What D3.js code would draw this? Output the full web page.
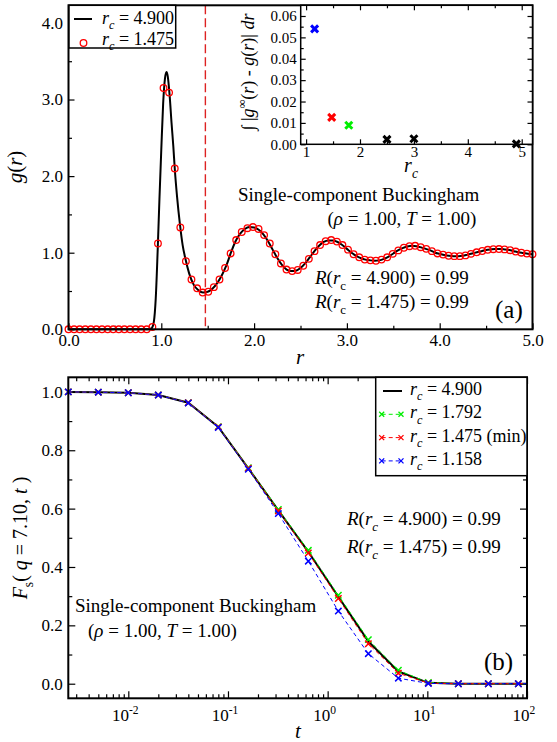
<!DOCTYPE html>
<html><head><meta charset="utf-8">
<script src="https://cdn.jsdelivr.net/npm/d3@7"></script>
<style>body{margin:0;background:#fff} text{font-family:"Liberation Serif","Times New Roman",serif;fill:#000}</style>
</head><body><svg id="c" width="557" height="742"></svg>
<script>
// ---------- DATA ----------
// Panel (a): g(r), r_c = 4.900 (solid line)
const gLineR = [0,0.5,0.85,0.88,0.90,0.92,0.94,0.96,0.98,1.00,1.02,1.04,1.056,1.07,1.09,1.11,1.13,1.145,1.17,1.20,1.23,1.26,1.30,1.35,1.40,1.45,1.50,1.55,1.60,1.65,1.70,1.75,1.80,1.85,1.90,1.95,2.00,2.05,2.10,2.15,2.20,2.25,2.30,2.35,2.40,2.45,2.50,2.55,2.60,2.65,2.70,2.75,2.80,2.85,2.90,2.95,3.00,3.05,3.10,3.15,3.20,3.25,3.30,3.35,3.40,3.45,3.50,3.55,3.60,3.65,3.70,3.75,3.80,3.85,3.90,3.95,4.00,4.05,4.10,4.15,4.20,4.25,4.30,4.35,4.40,4.45,4.50,4.55,4.60,4.65,4.70,4.75,4.80,4.85,4.90,4.95,5.00];
const gLineG = [0,0,0,0.005,0.02,0.10,0.40,1.00,1.70,2.35,2.95,3.28,3.36,3.30,3.05,2.70,2.38,2.10,1.73,1.38,1.10,0.92,0.73,0.58,0.51,0.48,0.49,0.53,0.60,0.70,0.83,1.00,1.15,1.25,1.31,1.335,1.33,1.30,1.24,1.15,1.04,0.93,0.84,0.78,0.76,0.765,0.80,0.86,0.94,1.02,1.09,1.14,1.16,1.16,1.14,1.10,1.05,1.00,0.96,0.93,0.91,0.90,0.895,0.90,0.92,0.95,0.99,1.03,1.06,1.08,1.09,1.085,1.07,1.05,1.03,1.00,0.985,0.97,0.96,0.955,0.955,0.96,0.975,0.99,1.005,1.02,1.035,1.043,1.048,1.048,1.043,1.035,1.02,1.005,0.995,0.985,0.98];
// Panel (a): g(r), r_c = 1.475 (circles)
const gCircR = [0.000,0.060,0.120,0.181,0.241,0.301,0.361,0.422,0.482,0.542,0.602,0.663,0.723,0.783,0.843,0.904,0.964,1.024,1.084,1.145,1.205,1.265,1.325,1.386,1.446,1.506,1.566,1.627,1.687,1.747,1.807,1.867,1.928,1.988,2.048,2.108,2.169,2.229,2.289,2.349,2.410,2.470,2.530,2.590,2.651,2.711,2.771,2.831,2.892,2.952,3.012,3.072,3.133,3.193,3.253,3.313,3.373,3.434,3.494,3.554,3.614,3.675,3.735,3.795,3.855,3.916,3.976,4.036,4.096,4.157,4.217,4.277,4.337,4.398,4.458,4.518,4.578,4.639,4.699,4.759,4.819,4.880,4.940,5.000];
const gCircG = [0,0,0,0,0,0,0,0,0,0,0,0,0,0,0,0.03,1.12,3.15,3.09,2.10,1.33,0.89,0.65,0.535,0.48,0.49,0.55,0.65,0.80,0.99,1.165,1.27,1.32,1.335,1.31,1.23,1.12,0.98,0.86,0.78,0.76,0.775,0.83,0.92,1.02,1.10,1.15,1.165,1.145,1.10,1.04,0.98,0.94,0.91,0.90,0.895,0.91,0.94,0.985,1.03,1.065,1.085,1.09,1.072,1.05,1.02,0.99,0.975,0.96,0.955,0.955,0.965,0.985,1.005,1.022,1.038,1.046,1.048,1.043,1.033,1.015,1.0,0.988,0.98];
const rcMin = 1.475;
// Inset
const insetRc  = [1.158, 1.475, 1.792, 2.5, 3.0, 4.9];
const insetErr = [0.054, 0.0126, 0.0089, 0.0023, 0.0026, 0.0002];
const insetGroup = ["b","r","g","k","k","k"];
// Panel (b): F_s(q, t)
const fsT    = [0.0025,0.005,0.01,0.02,0.04,0.08,0.16,0.32,0.64,1.28,2.56,5.12,10.24,20.48,40.96,81.92,163.84];
const fs4900 = [1.0,0.999,0.997,0.989,0.963,0.880,0.738,0.594,0.452,0.298,0.145,0.042,0.003,0.0,0.0,0.0,0.0];
const fs1792 = [1.0,0.999,0.997,0.989,0.963,0.881,0.740,0.597,0.457,0.303,0.151,0.046,0.004,0.0,0.0,0.0,0.0];
const fs1475 = [1.0,0.999,0.997,0.989,0.963,0.880,0.738,0.592,0.448,0.292,0.137,0.036,0.002,0.0,0.0,0.0,0.0];
const fs1158 = [1.0,0.999,0.997,0.989,0.962,0.878,0.735,0.583,0.420,0.249,0.103,0.019,0.001,0.0,0.0,0.0,0.0];
// Tick values
const aXMajor = [0,1,2,3,4,5], aXMinor = [0.5,1.5,2.5,3.5,4.5];
const aYMajor = [0,1,2,3,4],   aYMinor = [0.5,1.5,2.5,3.5];
const iXMajor = [1,2,3,4,5],   iXMinor = [1.5,2.5,3.5,4.5];
const iYMajor = [0,0.01,0.02,0.03,0.04,0.05,0.06], iYMinor = [0.005,0.015,0.025,0.035,0.045,0.055];
const bXMajor = [0.01,0.1,1,10,100];
const bXExp = ["-2","-1","0","1","2"];
const bYMajor = [0,0.2,0.4,0.6,0.8,1.0], bYMinor = [0.1,0.3,0.5,0.7,0.9];

// ---------- STYLE ----------
const col = {k:"#000000", r:"#ff0000", g:"#00ee00", b:"#0000ff", dash:"#dd2222"};
const svg = d3.select("#c");

function rich(parent, x, y, segs, size, anchor) {
  const t = parent.append("text").attr("x", x).attr("y", y).attr("font-size", size)
    .attr("text-anchor", anchor || "start");
  let shift = 0;
  segs.forEach(s => {
    const target = s.sub ? size * 0.3 : s.sup ? -size * 0.42 : 0;
    const ts = t.append("tspan").text(s.t).attr("dy", target - shift);
    shift = target;
    if (s.sub || s.sup) ts.attr("font-size", size * 0.68);
    if (s.i) ts.attr("font-style", "italic");
  });
  return t;
}
function axis(gen, tr, vals, size, pad, fmt, fs) {
  const g = svg.append("g").attr("transform", tr)
    .call(gen.tickValues(vals).tickSizeInner(size).tickSizeOuter(0).tickPadding(pad).tickFormat(fmt));
  g.select(".domain").remove();
  g.attr("font-family", null).attr("font-size", fs);
  g.selectAll("line").attr("stroke", "#000").attr("stroke-width", 1.2);
  g.selectAll("text").attr("fill", "#000");
  return g;
}
const none = () => "";

// ================= PANEL (a) =================
const xA = d3.scaleLinear().domain([0, 5]).range([68.5, 532.5]);
const yA = d3.scaleLinear().domain([0, 4.23]).range([329.3, 5.3]);

axis(d3.axisBottom(xA), `translate(0,${yA(0)})`, aXMajor, -6, 5, d3.format(".1f"), 17);
axis(d3.axisBottom(xA), `translate(0,${yA(0)})`, aXMinor, -3.5, 5, none, 17);
axis(d3.axisLeft(yA), `translate(${xA(0)},0)`, aYMajor, -6, 5.5, d3.format(".1f"), 17);
axis(d3.axisLeft(yA), `translate(${xA(0)},0)`, aYMinor, -3.5, 5.5, none, 17);

// vertical dashed at minimum
svg.append("line").attr("x1", xA(rcMin)).attr("x2", xA(rcMin)).attr("y1", yA.range()[1]).attr("y2", yA(0))
  .attr("stroke", col.dash).attr("stroke-width", 1.4).attr("stroke-dasharray", "9,4");

// black line
svg.append("path").datum(gLineR.map((r, i) => [r, gLineG[i]]))
  .attr("d", d3.line().x(d => xA(d[0])).y(d => yA(d[1])).curve(d3.curveMonotoneX))
  .attr("fill", "none").attr("stroke", "#000").attr("stroke-width", 2);
// circles
svg.append("g").selectAll("circle").data(gCircR.map((r, i) => [r, gCircG[i]])).join("circle")
  .attr("cx", d => xA(d[0])).attr("cy", d => yA(d[1])).attr("r", 3.3)
  .attr("fill", "none").attr("stroke", col.r).attr("stroke-width", 1.3);

// frame
svg.append("rect").attr("x", xA(0)).attr("y", yA.range()[1]).attr("width", xA(5) - xA(0)).attr("height", yA(0) - yA.range()[1])
  .attr("fill", "none").attr("stroke", "#000").attr("stroke-width", 2);

// legend (a)
svg.append("rect").attr("x", 69).attr("y", 5.3).attr("width", 106.7).attr("height", 42.7)
  .attr("fill", "#fff").attr("stroke", "#000").attr("stroke-width", 1.5);
svg.append("line").attr("x1", 74).attr("x2", 92).attr("y1", 19).attr("y2", 19).attr("stroke", "#000").attr("stroke-width", 2);
svg.append("circle").attr("cx", 83.5).attr("cy", 43).attr("r", 3.3).attr("fill", "none").attr("stroke", col.r).attr("stroke-width", 1.3);
rich(svg, 102, 23.5, [{t:"r",i:1},{t:"c",i:1,sub:1},{t:" = 4.900"}], 18);
rich(svg, 102, 45, [{t:"r",i:1},{t:"c",i:1,sub:1},{t:" = 1.475"}], 18);

// annotations (a)
rich(svg, 238, 200.5, [{t:"Single-component Buckingham"}], 19);
rich(svg, 327.5, 225, [{t:"("},{t:"ρ",i:1},{t:" = 1.00, "},{t:"T",i:1},{t:" = 1.00)"}], 19);
rich(svg, 315, 284, [{t:"R",i:1},{t:"("},{t:"r",i:1},{t:"c",sub:1},{t:" = 4.900) = 0.99"}], 19);
rich(svg, 315, 308, [{t:"R",i:1},{t:"("},{t:"r",i:1},{t:"c",sub:1},{t:" = 1.475) = 0.99"}], 19);
rich(svg, 495, 318, [{t:"(a)"}], 25);

// axis titles (a)
rich(svg, 300, 364, [{t:"r",i:1}], 21, "middle");
rich(svg.append("g").attr("transform", "translate(22,167) rotate(-90)"), 0, 0,
  [{t:"g",i:1},{t:"("},{t:"r",i:1},{t:")"}], 21, "middle");

// ================= INSET =================
const xI = d3.scaleLinear().domain([0.9, 5.2]).range([300.7, 532.5]);
const yI = d3.scaleLinear().domain([0, 0.065]).range([144.3, 5.3]);
svg.append("rect").attr("x", xI(0.9)).attr("y", yI(0.065)).attr("width", xI(5.2) - xI(0.9)).attr("height", yI(0) - yI(0.065))
  .attr("fill", "#fff").attr("stroke", "none");
axis(d3.axisBottom(xI), `translate(0,${yI(0)})`, iXMajor, -5, 2, d3.format("d"), 15);
axis(d3.axisBottom(xI), `translate(0,${yI(0)})`, iXMinor, -3, 2, none, 15);
axis(d3.axisTop(xI), `translate(0,${yI(0.065)})`, iXMajor, -5, 4, none, 15);
axis(d3.axisTop(xI), `translate(0,${yI(0.065)})`, iXMinor, -3, 4, none, 15);
axis(d3.axisLeft(yI), `translate(${xI(0.9)},0)`, iYMajor, -5, 4, d3.format(".2f"), 15);
axis(d3.axisLeft(yI), `translate(${xI(0.9)},0)`, iYMinor, -3, 4, none, 15);
axis(d3.axisRight(yI), `translate(${xI(5.2)},0)`, iYMajor, -5, 4, none, 15);
axis(d3.axisRight(yI), `translate(${xI(5.2)},0)`, iYMinor, -3, 4, none, 15);
svg.append("rect").attr("x", xI(0.9)).attr("y", yI(0.065)).attr("width", xI(5.2) - xI(0.9)).attr("height", yI(0) - yI(0.065))
  .attr("fill", "none").attr("stroke", "#000").attr("stroke-width", 1.5);
svg.append("g").selectAll("path").data(insetRc.map((r, i) => [r, insetErr[i], insetGroup[i]])).join("path")
  .attr("transform", d => `translate(${xI(d[0])},${yI(d[1])})`)
  .attr("d", "M-3.5,-3.5L3.5,3.5M-3.5,3.5L3.5,-3.5")
  .attr("stroke", d => col[d[2]]).attr("stroke-width", 3).attr("fill", "none");
rich(svg, 411, 172, [{t:"r",i:1},{t:"c",i:1,sub:1}], 20, "middle");
rich(svg.append("g").attr("transform", "translate(254,72) rotate(-90)"), 0, 0,
  [{t:"∫ |"},{t:"g",i:1},{t:"∞",sup:1},{t:"("},{t:"r",i:1},{t:") - "},{t:"g",i:1},{t:"("},{t:"r",i:1},{t:")| "},{t:"dr",i:1}], 18, "middle");

// ================= PANEL (b) =================
const xB = d3.scaleLog().domain([0.0025, 100]).range([68.3, 527]);
const yB = d3.scaleLinear().domain([-0.05, 1.05]).range([698.3, 377.3]);
const bXMinor = [];
[0.001, 0.01, 0.1, 1, 10].forEach(d => { for (let m = 2; m <= 9; m++) { const v = d * m; if (v >= 0.0025 && v <= 100) bXMinor.push(v); } });

axis(d3.axisBottom(xB), `translate(0,${yB(-0.05)})`, bXMajor, -7, 5, none, 17);
axis(d3.axisBottom(xB), `translate(0,${yB(-0.05)})`, bXMinor, -4, 5, none, 17);
axis(d3.axisTop(xB), `translate(0,${yB(1.05)})`, bXMajor, -7, 5, none, 17);
axis(d3.axisTop(xB), `translate(0,${yB(1.05)})`, bXMinor, -4, 5, none, 17);
axis(d3.axisLeft(yB), `translate(${xB(0.0025)},0)`, bYMajor, -7, 5.5, d3.format(".1f"), 17);
axis(d3.axisLeft(yB), `translate(${xB(0.0025)},0)`, bYMinor, -4, 5.5, none, 17);
axis(d3.axisRight(yB), `translate(${xB(100)},0)`, bYMajor, -7, 5, none, 17);
axis(d3.axisRight(yB), `translate(${xB(100)},0)`, bYMinor, -4, 5, none, 17);
bXMajor.forEach((v, i) => rich(svg, xB(v) - 3, 721, [{t:"10"},{t:bXExp[i],sup:1}], 17, "middle"));

svg.append("clipPath").attr("id", "clipB").append("rect")
  .attr("x", xB(0.0025) - 6).attr("y", yB(1.05)).attr("width", xB(100) - xB(0.0025) + 6).attr("height", yB(-0.05) - yB(1.05));
const plotB = svg.append("g").attr("clip-path", "url(#clipB)");
const lineB = d3.line().x(d => xB(d[0])).y(d => yB(d[1]));
const seriesB = [
  {v: fs4900, c: "k", dash: null, w: 2, mark: false},
  {v: fs1792, c: "g", dash: "4,3", w: 1, mark: true},
  {v: fs1475, c: "r", dash: "4,3", w: 1, mark: true},
  {v: fs1158, c: "b", dash: "4,3", w: 1, mark: true}
];
const xMark = "M-3.2,-3.2L3.2,3.2M-3.2,3.2L3.2,-3.2";
seriesB.forEach(s => {
  const pts = fsT.map((t, i) => [t, s.v[i]]);
  plotB.append("path").datum(pts).attr("d", lineB).attr("fill", "none")
    .attr("stroke", col[s.c]).attr("stroke-width", s.w).attr("stroke-dasharray", s.dash);
  if (s.mark) plotB.append("g").selectAll("path").data(pts).join("path")
    .attr("transform", d => `translate(${xB(d[0])},${yB(d[1])})`).attr("d", xMark)
    .attr("stroke", col[s.c]).attr("stroke-width", 1.5).attr("fill", "none");
});
svg.append("rect").attr("x", xB(0.0025)).attr("y", yB(1.05)).attr("width", xB(100) - xB(0.0025)).attr("height", yB(-0.05) - yB(1.05))
  .attr("fill", "none").attr("stroke", "#000").attr("stroke-width", 2);

// legend (b)
svg.append("rect").attr("x", 375.7).attr("y", yB(1.05)).attr("width", xB(100) - 375.7).attr("height", 98.4)
  .attr("fill", "#fff").attr("stroke", "#000").attr("stroke-width", 1.5);
const legB = [
  {c: "k", lab: " = 4.900"}, {c: "g", lab: " = 1.792"}, {c: "r", lab: " = 1.475 (min)"}, {c: "b", lab: " = 1.158"}
];
legB.forEach((e, i) => {
  const y = 391 + i * 23.3;
  if (e.c === "k") {
    svg.append("line").attr("x1", 383).attr("x2", 402).attr("y1", y).attr("y2", y).attr("stroke", "#000").attr("stroke-width", 2);
  } else {
    svg.append("line").attr("x1", 381.7).attr("x2", 401).attr("y1", y).attr("y2", y)
      .attr("stroke", col[e.c]).attr("stroke-width", 1).attr("stroke-dasharray", "4,3");
    [381.7, 401].forEach(x => svg.append("path").attr("transform", `translate(${x},${y})`)
      .attr("d", "M-2.5,-2.5L2.5,2.5M-2.5,2.5L2.5,-2.5").attr("stroke", col[e.c]).attr("stroke-width", 1.3));
  }
  rich(svg, 410, y + 4, [{t:"r",i:1},{t:"c",i:1,sub:1},{t:e.lab}], 18);
});

// annotations (b)
rich(svg, 347, 525, [{t:"R",i:1},{t:"("},{t:"r",i:1},{t:"c",i:1,sub:1},{t:" = 4.900) = 0.99"}], 19);
rich(svg, 347, 553, [{t:"R",i:1},{t:"("},{t:"r",i:1},{t:"c",i:1,sub:1},{t:" = 1.475) = 0.99"}], 19);
rich(svg, 75, 611.5, [{t:"Single-component Buckingham"}], 19);
rich(svg, 88, 636.5, [{t:"("},{t:"ρ",i:1},{t:" = 1.00, "},{t:"T",i:1},{t:" = 1.00)"}], 19);
rich(svg, 484, 670, [{t:"(b)"}], 25);

// axis titles (b)
rich(svg, 298, 738, [{t:"t",i:1}], 21, "middle");
rich(svg.append("g").attr("transform", "translate(27,538) rotate(-90)"), 0, 0,
  [{t:"F",i:1},{t:"s",sub:1},{t:"( "},{t:"q",i:1},{t:" = 7.10, "},{t:"t",i:1},{t:" )"}], 20, "middle");
</script></body></html>
